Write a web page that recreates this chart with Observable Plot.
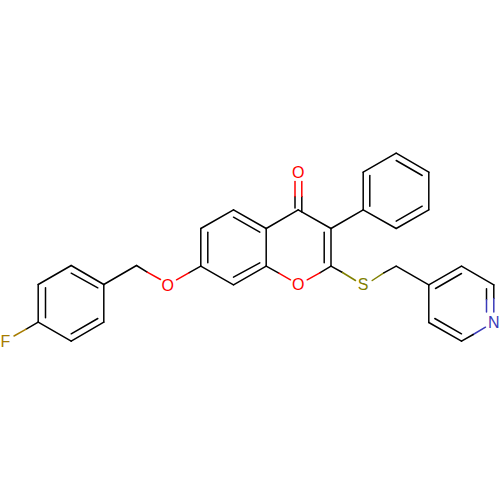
<!DOCTYPE html>
<html><head><meta charset="utf-8">
<script src="https://cdn.jsdelivr.net/npm/d3@7"></script>
<script src="https://cdn.jsdelivr.net/npm/@observablehq/plot@0.6"></script>
<style>html,body{margin:0;padding:0;background:#fff}svg{display:block}</style>
</head><body><div id="chart"></div>
<script>
const elements = ["C","O","S","N","F"];
const elementColors = ["#000000","#ff0000","#808000","#3a3ab8","#a67c00"];

// Atom labels
const labelText = ["F","O","O","O","S","N"];
const labelX = [5,167.3,297.7,297.7,362.5,493.3];
const labelY = [341.5,285,172.4,284.5,284.7,322];

// Bond segments [x1,y1,x2,y2,element]
const fluorophenyl = [
 [37.7,284,70.7,265,"C"],[70.7,265,103.3,284,"C"],[103.3,284,103.3,321.7,"C"],
 [103.3,321.7,70.7,340.7,"C"],[70.7,340.7,37.7,321.7,"C"],[37.7,321.7,37.7,284,"C"],
 [45,287.3,45,317.3,"C"],[70.7,272.7,97.3,287.3,"C"],[70.7,333.3,97.3,318,"C"],
 [37.7,321.7,25.7,328.7,"C"],[25.7,328.7,13.5,335.5,"F"]
];
const linker = [
 [103.3,284,136,265,"C"],[136,265,146.7,271.7,"C"],[146.7,271.7,160,279,"O"],
 [200.3,265.7,188.3,272.3,"C"],[188.3,272.3,176,279.3,"O"]
];
const chromenone = [
 [200.3,228,233,209.3,"C"],[233,209.3,265.7,228,"C"],[265.7,228,265.7,265.7,"C"],
 [265.7,265.7,233,284.3,"C"],[233,284.3,200.3,265.7,"C"],[200.3,265.7,200.3,228,"C"],
 [207.3,231.7,207.3,262.3,"C"],[233,216.7,259.3,231.7,"C"],[233,276.7,259.3,262.3,"C"],
 [265.7,228,297.7,209.3,"C"],[297.7,209.3,330.5,228,"C"],[330.5,228,330.5,265.7,"C"],
 [323.7,231.7,323.7,262.3,"C"],
 [265.7,265.7,278.3,272.7,"C"],[278.3,272.7,290,279.3,"O"],
 [330.5,265.7,319.3,272.3,"C"],[319.3,272.3,306.7,279.3,"O"],
 [294.5,207.5,294.5,196,"C"],[294.5,196,294.5,181,"O"],
 [301.3,211.5,301.3,196,"C"],[301.3,196,301.3,181,"O"]
];
const phenyl = [
 [330.5,228,362.7,209.3,"C"],
 [362.7,171.7,395.7,152.7,"C"],[395.7,152.7,428.3,171.7,"C"],[428.3,171.7,428.3,209.3,"C"],
 [428.3,209.3,395.7,228,"C"],[395.7,228,362.7,209.3,"C"],[362.7,209.3,362.7,171.7,"C"],
 [369.3,175,369.3,205.7,"C"],[395.7,160,421.7,175,"C"],[395.7,220.7,421.7,205.7,"C"]
];
const thioether = [
 [330.5,265.7,342,272,"C"],[342,272,355,280,"S"],
 [371.7,280,383.3,272.3,"S"],[383.3,272.3,395.7,265.7,"C"],
 [395.7,265.7,428.3,284.3,"C"]
];
const pyridine = [
 [428.3,284.3,461,265.7,"C"],[461,265.7,493.3,284.3,"C"],[493.3,284.3,493.3,298,"C"],
 [493.3,298,493.3,311.5,"N"],[485,326.7,472.7,334,"N"],[472.7,334,461,340.7,"C"],
 [461,340.7,428.3,322,"C"],[428.3,322,428.3,284.3,"C"],
 [435,288,461,273,"C"],[486,288.3,486,299.3,"C"],[486,299.3,486,311.5,"N"],
 [434.3,318,461,333.3,"C"]
];
const segments = [...fluorophenyl,...linker,...chromenone,...phenyl,...thioether,...pyridine];
const labels = labelText.map((t,i)=>({t,x:labelX[i],y:labelY[i]}));

const chart = Plot.plot({
  width:500,height:500,margin:0,
  x:{domain:[0,500],range:[0,500],axis:null},
  y:{domain:[0,500],range:[0,500],axis:null},
  color:{domain:elements,range:elementColors},
  marks:[
    Plot.link(segments,{x1:d=>d[0],y1:d=>d[1],x2:d=>d[2],y2:d=>d[3],stroke:d=>d[4],strokeWidth:1.5,strokeLinecap:"round"}),
    Plot.text(labels,{x:"x",y:"y",text:"t",fill:"t",fontSize:16,fontFamily:"Liberation Sans"})
  ]
});
document.getElementById("chart").append(chart);
</script></body></html>
